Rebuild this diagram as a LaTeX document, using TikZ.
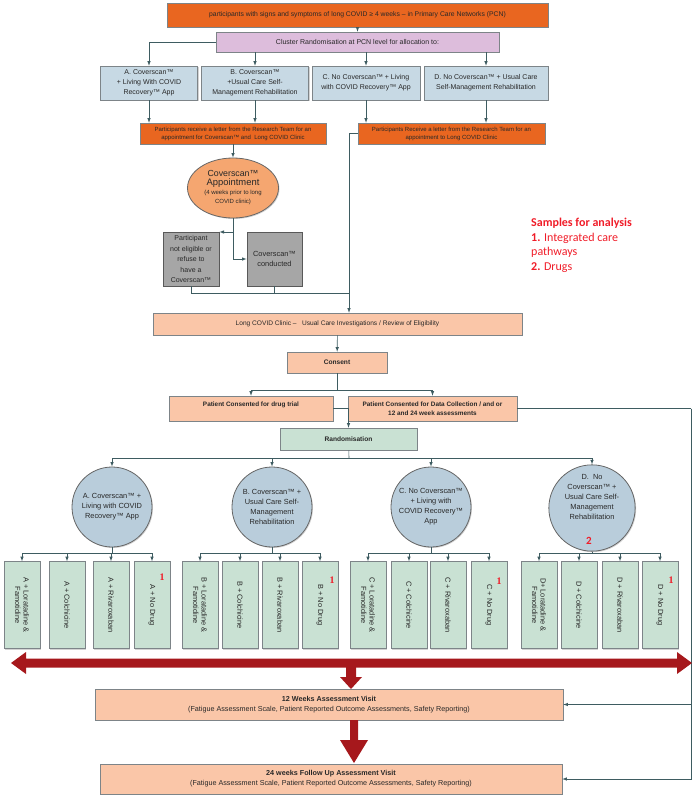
\documentclass[tikz,border=0pt]{standalone}
\usepackage{fontspec}
\setmainfont{Liberation Sans}
\newfontfamily\carlito{Carlito}
\newfontfamily\serifone{Liberation Serif}
\usetikzlibrary{shapes.geometric,shadows}
\newcommand{\fsz}[2]{\fontsize{#1}{#2}\selectfont}
\definecolor{ordeep}{RGB}{233,102,32}
\definecolor{lilac}{RGB}{221,189,220}
\definecolor{slate}{RGB}{199,217,228}
\definecolor{peach}{RGB}{250,198,168}
\definecolor{apricot}{RGB}{245,166,112}
\definecolor{greybox}{RGB}{166,166,166}
\definecolor{mint}{RGB}{201,225,211}
\definecolor{circfill}{RGB}{185,205,219}
\definecolor{lnk}{RGB}{62,92,97}
\definecolor{bordgray}{RGB}{125,132,136}
\definecolor{redarr}{RGB}{166,24,28}
\definecolor{sred}{RGB}{240,28,40}
\definecolor{txt}{RGB}{40,40,40}

\begin{document}
\begin{tikzpicture}[x=1pt,y=-1pt,
		box/.style={draw=bordgray,line width=0.5pt,align=center,inner sep=1pt,text=txt,
			drop shadow={shadow xshift=1pt,shadow yshift=-1pt,opacity=0.35}},
		orbox/.style={box,fill=ordeep},
		peachbox/.style={box,fill=peach},
		greyb/.style={box,fill=greybox,draw=black!65,line width=0.8pt,font=\fsz{7}{10.5}},
		drug/.style={box,fill=mint,minimum width=36,minimum height=87,font=\fsz{7.4}{9}},
		arm/.style={circle,draw=black!60,line width=0.8pt,fill=circfill,minimum size=80,inner sep=0pt,
			align=center,text=txt,font=\fsz{7.4}{10},drop shadow={shadow xshift=1pt,shadow yshift=-1pt,opacity=0.35}},
		conn/.style={draw=lnk,line width=0.6pt},
		arr/.style={conn,-latex},
		one/.style={text=sred,font=\serifone\bfseries\fsz{10}{10},inner sep=0pt}]
	
	\useasboundingbox (0,0) rectangle (695,800);
	
	% top of the flow
	\node[orbox,minimum width=381,minimum height=24,font=\fsz{6.8}{8}] (top) at (357.5,15) {participants with signs and symptoms of long COVID ≥ 4 weeks – in Primary Care Networks (PCN)};
	\node[box,fill=lilac,minimum width=283,minimum height=20,font=\fsz{7}{8}] (clus) at (357.5,42) {Cluster Randomisation at PCN level for allocation to:};
	
	\node[box,fill=slate,minimum width=97,minimum height=34,font=\fsz{7}{10}] (bA) at (149,83) {A. Coverscan™\\+ Living With COVID\\Recovery™ App};
	\node[box,fill=slate,minimum width=107,minimum height=34,font=\fsz{7}{10}] (bB) at (255,83) {B. Coverscan™\\+Usual Care Self-\\Management Rehabilitation};
	\node[box,fill=slate,minimum width=108,minimum height=34,font=\fsz{7}{10}] (bC) at (366,83) {C. No Coverscan™ + Living\\with COVID Recovery™ App};
	\node[box,fill=slate,minimum width=124,minimum height=34,font=\fsz{7}{10}] (bD) at (486,83) {D. No Coverscan™ + Usual Care\\Self-Management Rehabilitation};
	
	\draw[arr] (top) -- (clus);
	\draw[arr] (clus.west) -| (bA.north);
	\draw[arr] (clus.south -| bB.north) -- (bB.north);
	\draw[arr] (clus.south -| bC.north) -- (bC.north);
	\draw[arr] (clus.south -| bD.north) -- (bD.north);
	
	% letters
	\node[orbox,minimum width=186,minimum height=21,font=\fsz{6}{8}] (let1) at (233,133.5) {Participants receive a letter from the Research Team for an\\appointment for Coverscan™ and~ Long COVID Clinic};
	\node[orbox,minimum width=187,minimum height=21,font=\fsz{6}{8}] (let2) at (451.5,133.5) {Participants Receive a letter from the Research Team for an\\appointment to Long COVID Clinic};
	
	\draw[arr] (bA.south) -- (bA.south |- let1.north);
	\draw[arr] (bB.south) -- (bB.south |- let1.north);
	\draw[arr] (bC.south) -- (bC.south |- let2.north);
	\draw[arr] (bD.south) -- (bD.south |- let2.north);
	
	% coverscan appointment
	\node[ellipse,draw=black!60,line width=0.8pt,fill=apricot,minimum width=91,minimum height=60,inner sep=0pt,align=center,text=txt,font=\fsz{6}{9},
		drop shadow={shadow xshift=1pt,shadow yshift=-1pt,opacity=0.35}] (ell) at (233,188) {{\fsz{8.8}{11}Coverscan™}\\{\fsz{9.4}{11}Appointment}\\(4 weeks prior to long\\COVID clinic)};
	\draw[arr] (let1) -- (ell);
	
	\node[greyb,minimum width=56,minimum height=54] (g1) at (191,259) {Participant\\not eligible or\\refuse to\\have a\\Coverscan™};
	\node[greyb,minimum width=55,minimum height=54,font=\fsz{7.4}{10.5}] (g2) at (274.5,259) {Coverscan™\\conducted};
	
	\coordinate (e1) at (233,232);
	\draw[conn] (ell.south) -- (e1);
	\draw[arr] (e1) -- (e1 -| g1.east);
	\draw[arr] (e1) |- (g2.west);
	
	% clinic and consent
	\node[peachbox,minimum width=369,minimum height=22,font=\fsz{6.6}{8}] (clin) at (337.5,324) {Long COVID Clinic –~~ Usual Care Investigations / Review of Eligibility};
	
	\coordinate (m1) at (349,293);
	\draw[conn] (g1.south) |- (m1);
	\draw[conn] (g2.south) |- (m1);
	\draw[arr] (let2.west) -| (clin.north -| m1);
	
	\node[peachbox,minimum width=100,minimum height=21,font=\bfseries\fsz{6.6}{8}] (cons) at (337,362.5) {Consent};
	\draw[arr] (clin) -- (cons);
	
	\node[peachbox,minimum width=164,minimum height=25,font=\bfseries\fsz{6.4}{9}] (ptrial) at (251,408.5) {Patient Consented for drug trial\\\phantom{x}};
	\node[peachbox,minimum width=169,minimum height=25,font=\bfseries\fsz{6.4}{9}] (pdata) at (432.5,408.5) {Patient Consented for Data Collection / and or\\12 and 24 week assessments};
	
	\coordinate (m2) at (337,390);
	\draw[conn] (cons) -- (m2);
	\draw[arr] (m2) -| (ptrial.north);
	\draw[arr] (m2) -| (pdata.north);
	
	\node[box,fill=mint,minimum width=137,minimum height=22,font=\bfseries\fsz{6.6}{8}] (rand) at (348.5,439) {Randomisation};
	\draw[arr] (ptrial.east) -| (rand.north);
	
	% the four arms
	\node[arm] (cA) at (112,507) {A. Coverscan™ +\\Living with COVID\\Recovery™ App};
	\node[arm] (cB) at (272,507) {B. Coverscan™ +\\Usual Care Self-\\Management\\Rehabilitation};
	\node[arm] (cC) at (431,507) {C. No Coverscan™\\+ Living with\\COVID Recovery™\\App};
	\node[arm] (cD) at (592,508) {D.~ No\\Coverscan™ +\\Usual Care Self-\\Management\\Rehabilitation\\[12pt]};
	\node[text=sred,font=\carlito\bfseries\fsz{11}{11},inner sep=0pt] (n2) at (589,541) {2};
	
	\coordinate (m3) at (349,458);
	\draw[conn] (rand) -- (m3);
	\draw[arr] (m3) -| (cA);
	\draw[arr] (m3) -| (cB);
	\draw[arr] (m3) -| (cC);
	\draw[arr] (m3) -| (cD);
	
	% drugs, arm A
	\node[drug] (a1) at (22,605) {\rotatebox{-90}{\shortstack{A + Loratadine \&\\Famotidine}}};
	\node[drug] (a2) at (67,605) {\rotatebox{-90}{A + Colchicine}};
	\node[drug] (a3) at (111,605) {\rotatebox{-90}{A + Rivaroxaban}};
	\node[drug] (a4) at (152,605) {\rotatebox{-90}{A + No Drug}};
	\node[one] (o1) at (162,577) {1};
	
	% drugs, arm B
	\node[drug] (b1) at (200,605) {\rotatebox{-90}{\shortstack{B + Loratadine \&\\Famotidine}}};
	\node[drug] (b2) at (240,605) {\rotatebox{-90}{B + Colchicine}};
	\node[drug] (b3) at (280,605) {\rotatebox{-90}{B + Rivaroxaban}};
	\node[drug] (b4) at (320,605) {\rotatebox{-90}{B + No Drug}};
	\node[one] (o2) at (332,580) {1};
	
	% drugs, arm C
	\node[drug] (c1) at (368,605) {\rotatebox{-90}{\shortstack{C + Loratadine \&\\Famotidine}}};
	\node[drug] (c2) at (409,605) {\rotatebox{-90}{C + Colchicine}};
	\node[drug] (c3) at (448,605) {\rotatebox{-90}{C + Rivaroxaban}};
	\node[drug] (c4) at (489,605) {\rotatebox{-90}{C + No Drug}};
	\node[one] (o3) at (499,581) {1};
	
	% drugs, arm D
	\node[drug] (d1) at (539,605) {\rotatebox{-90}{\shortstack{D+ Loratadine \&\\Famotidine}}};
	\node[drug] (d2) at (579,605) {\rotatebox{-90}{D + Colchicine}};
	\node[drug] (d3) at (620,605) {\rotatebox{-90}{D + Rivaroxaban}};
	\node[drug] (d4) at (660,605) {\rotatebox{-90}{D + No Drug}};
	\node[one] (o4) at (671,580) {1};
	
	\coordinate (ja) at (112,553);
	\coordinate (jb) at (272,553);
	\coordinate (jc) at (431,553);
	\coordinate (jd) at (592,553);
	\draw[conn] (cA) -- (ja);
	\draw[conn] (cB) -- (jb);
	\draw[conn] (cC) -- (jc);
	\draw[conn] (cD) -- (jd);
	\draw[arr] (ja) -| (a1);
	\draw[arr] (ja) -| (a2);
	\draw[arr] (ja) -| (a3);
	\draw[arr] (ja) -| (a4);
	\draw[arr] (jb) -| (b1);
	\draw[arr] (jb) -| (b2);
	\draw[arr] (jb) -| (b3);
	\draw[arr] (jb) -| (b4);
	\draw[arr] (jc) -| (c1);
	\draw[arr] (jc) -| (c2);
	\draw[arr] (jc) -| (c3);
	\draw[arr] (jc) -| (c4);
	\draw[arr] (jd) -| (d1);
	\draw[arr] (jd) -| (d2);
	\draw[arr] (jd) -| (d3);
	\draw[arr] (jd) -| (d4);
	
	% follow up visits
	\node[peachbox,minimum width=468,minimum height=31,font=\fsz{7.2}{10}] (w12) at (329,704.5) {{\bfseries 12 Weeks Assessment Visit}\\(Fatigue Assessment Scale, Patient Reported Outcome Assessments, Safety Reporting)};
	\node[peachbox,minimum width=462,minimum height=30,font=\fsz{7.2}{10}] (w24) at (331,779) {{\bfseries 24 weeks Follow Up Assessment Visit}\\(Fatigue Assessment Scale, Patient Reported Outcome Assessments, Safety Reporting)};
	
	\coordinate (rt) at (691,408.5);
	\draw[conn] (pdata.east) -- (rt);
	\draw[arr] (rt) |- (w12.east);
	\draw[arr] (rt) |- (w24.east);
	
	% red arrows
	\fill[redarr] (11,663) -- (26,652) -- (26,658.5) -- (677,658.5) -- (677,652) -- (692,663) -- (677,674) -- (677,667.5) -- (26,667.5) -- (26,674) -- cycle;
	\fill[redarr] (346,667) -- (356,667) -- (356,677) -- (362,677) -- (351,689) -- (340,677) -- (346,677) -- cycle;
	\fill[redarr] (350,720) -- (358,720) -- (358,740) -- (368,740) -- (354,763) -- (340,740) -- (350,740) -- cycle;
	
	% samples
	\node[anchor=north west,align=left,text=sred,font=\carlito\fsz{12}{14.5},inner sep=0pt] (samp) at (531,218) {\textbf{Samples for analysis}\\\textbf{1.} Integrated care\\pathways\\\textbf{2.} Drugs};
	
\end{tikzpicture}
\end{document}
